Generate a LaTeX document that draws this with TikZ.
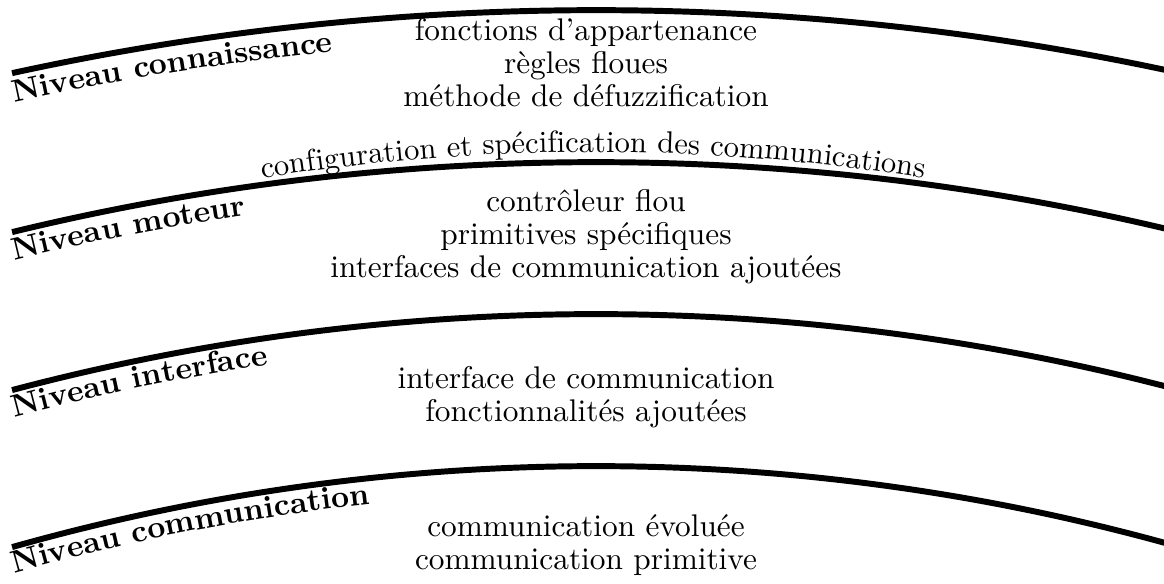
\documentclass[tikz,border=0pt]{standalone}
\usetikzlibrary{decorations.text}
\begin{document}
\begin{tikzpicture}[x=0.3193pt,y=0.3193pt,
  levelarc/.style={line width=1.9pt,line cap=butt},
  item/.style={anchor=base,inner sep=0pt,font=\fontsize{10}{12}\selectfont}]
\useasboundingbox (0,0) rectangle (1164,-583);

% centres of the four level arcs
\coordinate (C1) at (596,-2748.3);
\coordinate (C2) at (596,-2633.1);
\coordinate (C3) at (596,-2595.8);
\coordinate (C4) at (596,-2611.8);
% centre of the curved caption above the second arc
\coordinate (CT) at (593,-2252);

% level boundaries
\draw[levelarc] (C1) ++({90+asin(584/2738.3)}:2738.3)
  arc[start angle={90+asin(584/2738.3)},end angle={90-asin(580/2738.3)},radius=2738.3];
\draw[levelarc] (C2) ++({90+asin(584/2471.1)}:2471.1)
  arc[start angle={90+asin(584/2471.1)},end angle={90-asin(580/2471.1)},radius=2471.1];
\draw[levelarc] (C3) ++({90+asin(584/2281.8)}:2281.8)
  arc[start angle={90+asin(584/2281.8)},end angle={90-asin(580/2281.8)},radius=2281.8];
\draw[levelarc] (C4) ++({90+asin(584/2145.8)}:2145.8)
  arc[start angle={90+asin(584/2145.8)},end angle={90-asin(580/2145.8)},radius=2145.8];

% level names, set along each boundary
\path[decorate,decoration={text along path,text={|\bfseries|Niveau connaissance}}]
  (C1) ++({90+asin(582/2709.3)}:2709.3)
  arc[start angle={90+asin(582/2709.3)},end angle=80,radius=2709.3];
\path[decorate,decoration={text along path,text={|\bfseries|Niveau moteur}}]
  (C2) ++({90+asin(582/2443.1)}:2443.1)
  arc[start angle={90+asin(582/2443.1)},end angle=80,radius=2443.1];
\path[decorate,decoration={text along path,text={|\bfseries|Niveau interface}}]
  (C3) ++({90+asin(582/2254.8)}:2254.8)
  arc[start angle={90+asin(582/2254.8)},end angle=80,radius=2254.8];
\path[decorate,decoration={text along path,text={|\bfseries|Niveau communication}}]
  (C4) ++({90+asin(582/2119.8)}:2119.8)
  arc[start angle={90+asin(582/2119.8)},end angle=80,radius=2119.8];

% knowledge level
\node[item] (k1) at (586,-40) {fonctions d'appartenance};
\node[item] (k2) at (586,-73) {règles floues};
\node[item] (k3) at (586,-106) {méthode de défuzzification};
\path[decorate,decoration={text along path,text align=center,
  text={|\fontsize{9.75}{12}\selectfont|configuration et spécification des communications}}]
  (CT) ++(102:2100) arc[start angle=102,end angle=78,radius=2100];

% engine level
\node[item] (m1) at (586,-211) {contrôleur flou};
\node[item] (m2) at (586,-244) {primitives spécifiques};
\node[item] (m3) at (586,-277) {interfaces de communication ajoutées};

% interface level
\node[item] (i1) at (586,-388) {interface de communication};
\node[item] (i2) at (586,-421) {fonctionnalités ajoutées};

% communication level
\node[item] (c1) at (586,-536) {communication évoluée};
\node[item] (c2) at (586,-569) {communication primitive};
\end{tikzpicture}
\end{document}
